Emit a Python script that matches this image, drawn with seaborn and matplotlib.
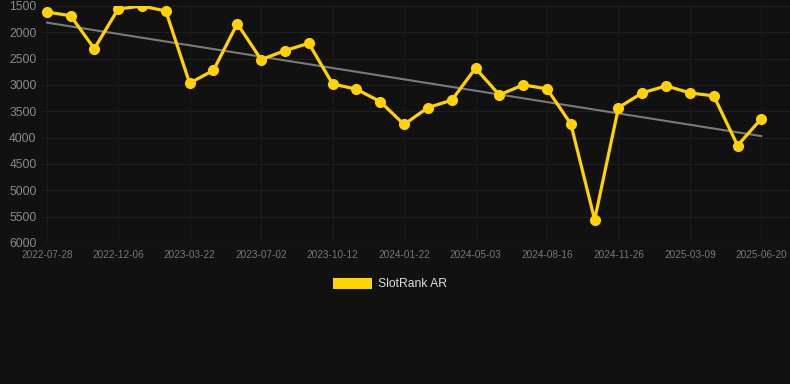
import numpy as np
import pandas as pd
import matplotlib
matplotlib.use("Agg")
import matplotlib.pyplot as plt
from matplotlib.patches import Patch
import seaborn as sns

# ---- data ----
tick_labels = ["2022-07-28", "2022-12-06", "2023-03-22", "2023-07-02", "2023-10-12",
               "2024-01-22", "2024-05-03", "2024-08-16", "2024-11-26", "2025-03-09",
               "2025-06-20"]
rank_values = [1614, 1684, 2310, 1557, 1500, 1595, 2966, 2720, 1835, 2518,
               2347, 2208, 2979, 3080, 3315, 3750, 3429, 3289, 2682, 3188,
               2998, 3074, 3738, 5558, 3429, 3150, 3017, 3150, 3207, 4149,
               3637]
y_ticks = [1500, 2000, 2500, 3000, 3500, 4000, 4500, 5000, 5500, 6000]
series_name = "SlotRank AR"

df = pd.DataFrame({"idx": np.arange(len(rank_values)), "rank": rank_values})

# ---- style ----
BG = "#111111"
GOLD = "#FFD200"
sns.set_theme(style="dark")
plt.rcParams["font.family"] = ["Liberation Sans", "DejaVu Sans"]

fig = plt.figure(figsize=(7.9, 3.84), dpi=100, facecolor=BG)
ax = fig.add_axes([42 / 790, 141 / 384, 748 / 790, 237 / 384])
ax.set_facecolor(BG)

# trend line (linear fit of the series)
sns.regplot(data=df, x="idx", y="rank", scatter=False, ci=None, truncate=True,
            line_kws=dict(color="#7a7a7a", lw=1.5, zorder=2), ax=ax)

sns.lineplot(data=df, x="idx", y="rank", color=GOLD, lw=2.3, marker="o",
             markersize=8, markeredgewidth=0, zorder=3, ax=ax)

ax.set_ylim(6000, 1500)
ax.set_xlim(-0.197, 31.2)
ax.set_yticks(y_ticks)
ax.set_yticklabels([str(v) for v in y_ticks])
tick_pos = list(range(0, len(rank_values), 3))
ax.set_xticks(tick_pos)
ax.set_xticklabels(tick_labels)

ax.grid(True, axis="y", color="#1f1f1f", lw=0.8)
ax.grid(True, axis="x", color="#1a1a1a", lw=0.8)
ax.tick_params(axis="y", colors="#8a8a8a", labelsize=8.7, length=0, pad=4)
ax.tick_params(axis="x", colors="#777777", labelsize=7.2, length=0, pad=5)
for lab in ax.get_yticklabels():
    lab.set_color("#8a8a8a")
for s in ax.spines.values():
    s.set_visible(False)
ax.axhline(6000, color="#2a2a2a", lw=0.8, zorder=1)
ax.set_xlabel("")
ax.set_ylabel("")

fig.legend(handles=[Patch(facecolor=GOLD, edgecolor="none", label=series_name)],
           loc="center", bbox_to_anchor=(390 / 790, 1 - 284 / 384),
           frameon=False, fontsize=8.7, labelcolor="#dddddd",
           handlelength=3.3, handleheight=1.0, handletextpad=0.5)

fig.savefig("out.png", dpi=100, facecolor=BG)
